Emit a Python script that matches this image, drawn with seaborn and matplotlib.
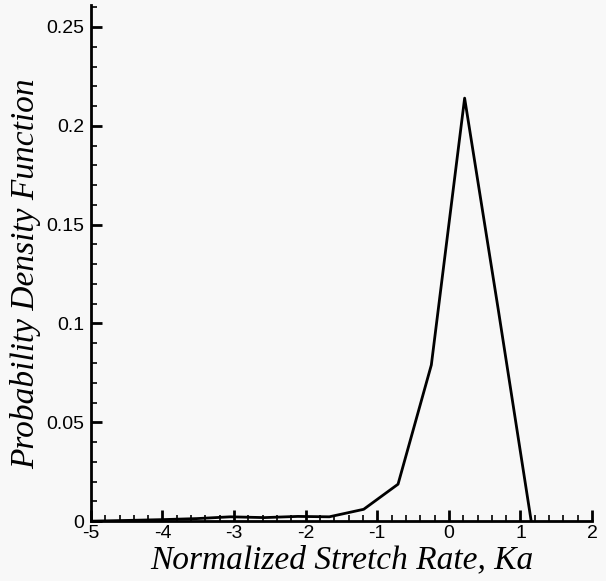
import matplotlib
matplotlib.use("Agg")
import matplotlib.pyplot as plt
import seaborn as sns
import pandas as pd
from matplotlib.ticker import MultipleLocator, FixedLocator

ka = [-5.0, -4.45, -3.98, -3.52, -3.05, -2.58, -2.11, -1.67, -1.19, -0.71, -0.245, 0.22, 0.69, 1.15]
pdf = [0.0, 0.0004, 0.0008, 0.0013, 0.0022, 0.0018, 0.0024, 0.0022, 0.006, 0.0187, 0.079, 0.214, 0.107, 0.0]
xticks = [-5, -4, -3, -2, -1, 0, 1, 2]
xticklabels = ["-5", "-4", "-3", "-2", "-1", "0", "1", "2"]
yticks = [0, 0.05, 0.1, 0.15, 0.2, 0.25]
yticklabels = ["0", "0.05", "0.1", "0.15", "0.2", "0.25"]

df = pd.DataFrame({"Ka": ka, "PDF": pdf})

sns.set_style("ticks")
bg = "#f8f8f8"
fig = plt.figure(figsize=(6.06, 5.81), dpi=100, facecolor=bg)
ax = fig.add_axes([0.150, 0.103, 0.827, 0.888])
ax.set_facecolor(bg)

sns.lineplot(data=df, x="Ka", y="PDF", ax=ax, color="black", linewidth=2.0, sort=False)

ax.set_xlim(-5, 2)
ax.set_ylim(0, 0.261)
ax.xaxis.set_major_locator(FixedLocator(xticks))
ax.set_xticklabels(xticklabels)
ax.xaxis.set_minor_locator(MultipleLocator(0.2))
ax.yaxis.set_major_locator(FixedLocator(yticks))
ax.set_yticklabels(yticklabels)
ax.yaxis.set_minor_locator(MultipleLocator(0.01))

for s in ["top", "right"]:
    ax.spines[s].set_visible(False)
for s in ["left", "bottom"]:
    ax.spines[s].set_linewidth(2.0)
    ax.spines[s].set_color("black")

ax.tick_params(axis="both", which="major", direction="in", length=8, width=2.0,
               labelsize=14, colors="black", labelcolor="black")
ax.tick_params(axis="x", which="major", pad=3)
ax.tick_params(axis="y", which="major", pad=5)
ax.tick_params(axis="both", which="minor", direction="in", length=4, width=1.2, colors="black")
for lab in ax.get_xticklabels() + ax.get_yticklabels():
    lab.set_family(["Liberation Sans", "DejaVu Sans"])

ax.set_xlabel("Normalized Stretch Rate, Ka", fontsize=24, fontstyle="italic", color="black",
              family=["Liberation Serif", "DejaVu Serif"], labelpad=2)
ax.set_ylabel("Probability Density Function", fontsize=24, fontstyle="italic", color="black",
              family=["Liberation Serif", "DejaVu Serif"], labelpad=4)
ax.yaxis.set_label_coords(-0.10, 0.48)

fig.savefig("out.png", dpi=100, facecolor=bg)
